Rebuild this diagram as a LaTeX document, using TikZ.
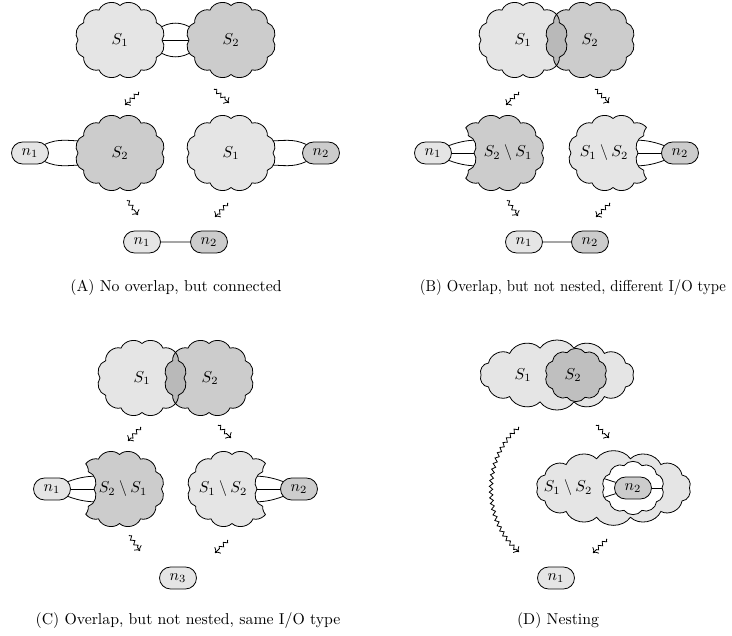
\documentclass[tikz,border=0pt]{standalone}
\usetikzlibrary{shapes.misc,decorations.pathmorphing,arrows.meta}
\newcommand\cloudpath[6]{({#1+#3*cos(#6)},{-(#2)+#4*sin(#6)}) \foreach \k in {1,...,#5}{ to[bend right=55] ({#1+#3*cos(#6+360*\k/#5)},{-(#2)+#4*sin(#6+360*\k/#5)}) } -- cycle}
\newcommand\stdcloud[2]{\cloudpath{#1}{#2}{42}{34.5}{12}{0}}
\newcommand\bigcloud[3]{\cloudpath{#1}{#2}{76}{#3}{14}{0}}
\newcommand\smallcloud[2]{\cloudpath{#1}{#2}{29}{23.5}{10}{0}}
\newcommand\fullrect{(0,0) -- (732,0) -- (732,-635) -- (0,-635) -- cycle}
\tikzset{
  lt/.style={fill=gray!20},
  dk/.style={fill=gray!40},
  nbox/.style={draw, rounded rectangle, minimum width=23.4pt, minimum height=13.9pt, inner sep=0pt},
  squig/.style={decorate, decoration={zigzag, amplitude=1.1pt, segment length=3.6pt, pre length=0.5pt, post length=2.5pt}, ->},
  caption/.style={anchor=base}
}
\newcommand\sqarrow[5]{\coordinate (#1s) at (#2,-#3); \coordinate (#1e) at (#4,-#5); \draw[squig] (#1s) -- (#1e);}
\begin{document}
\begin{tikzpicture}[x=0.633pt, y=0.633pt, line width=0.5pt]
\useasboundingbox (0,0) rectangle (732,-635);

% ================= Panel A =================
\coordinate (a1) at (158,-29); \coordinate (a2) at (193,-29);
\draw (a1) to[bend left=35] (a2);
\coordinate (a3) at (150,-40); \coordinate (a4) at (200,-40);
\draw (a3) -- (a4);
\coordinate (a5) at (158,-51); \coordinate (a6) at (193,-51);
\draw (a5) to[bend right=35] (a6);
\path[draw, lt] \stdcloud{120}{40};
\path[draw, dk] \stdcloud{231}{40};
\node (SA1) at (120,-40) {$S_1$};
\node (SA2) at (231,-40) {$S_2$};

\sqarrow{arA1}{139}{92}{125}{105}
\sqarrow{arA2}{214}{89}{229}{103}

\node[nbox, lt] (nA1) at (30,-153) {$n_1$};
\coordinate (a7) at (84,-141); \draw (nA1.30) to[out=25,in=180] (a7);
\coordinate (a8) at (84,-165); \draw (nA1.-30) to[out=-25,in=180] (a8);
\node[nbox, dk] (nA2) at (321,-153) {$n_2$};
\coordinate (a9) at (268,-141); \draw (a9) to[out=0,in=155] (nA2.150);
\coordinate (a10) at (268,-165); \draw (a10) to[out=0,in=205] (nA2.210);
\path[draw, dk] \stdcloud{120}{153};
\path[draw, lt] \stdcloud{231}{153};
\node (SA3) at (120,-153) {$S_2$};
\node (SA4) at (231,-153) {$S_1$};

\sqarrow{arA3}{127}{200}{138}{215}
\sqarrow{arA4}{228}{203}{215}{217}

\node[nbox, lt] (nA3) at (142,-242) {$n_1$};
\node[nbox, dk] (nA4) at (209,-242) {$n_2$};
\draw (nA3) -- (nA4);

\node[caption] (capA) at (176,-291) {(A) No overlap, but connected};

% ================= Panel B =================
\fill[gray!20] \stdcloud{523}{40};
\fill[gray!40] \stdcloud{590}{40};
\begin{scope}
  \clip \stdcloud{523}{40};
  \fill[gray!55] \stdcloud{590}{40};
\end{scope}
\draw \stdcloud{523}{40};
\draw \stdcloud{590}{40};
\node (SB1) at (523,-40) {$S_1$};
\node (SB2) at (590,-40) {$S_2$};

\sqarrow{arB1}{519}{92}{506}{105}
\sqarrow{arB2}{595}{89}{609}{103}

\begin{scope}
  \clip \fullrect \stdcloud{432}{153};
  \path[draw, dk] \stdcloud{499.5}{153};
\end{scope}
\begin{scope}
  \clip \stdcloud{499.5}{153};
  \draw \stdcloud{432}{153};
\end{scope}
\node[nbox, lt] (nB1) at (433,-153) {$n_1$};
\begin{scope}
  \clip \stdcloud{432}{153};
  \coordinate (b1) at (482,-140); \draw (nB1.25) to[out=20,in=180] (b1);
  \coordinate (b2) at (482,-153); \draw (nB1.east) -- (b2);
  \coordinate (b3) at (482,-166); \draw (nB1.-25) to[out=-20,in=180] (b3);
\end{scope}
\node (SB3) at (508,-153) {$S_2\setminus S_1$};

\begin{scope}
  \clip \fullrect \stdcloud{680}{153};
  \path[draw, lt] \stdcloud{613}{153};
\end{scope}
\begin{scope}
  \clip \stdcloud{613}{153};
  \draw \stdcloud{680}{153};
\end{scope}
\node[nbox, dk] (nB2) at (680,-153) {$n_2$};
\begin{scope}
  \clip \stdcloud{680}{153};
  \coordinate (b4) at (631,-140); \draw (nB2.155) to[out=160,in=0] (b4);
  \coordinate (b5) at (631,-153); \draw (nB2.west) -- (b5);
  \coordinate (b6) at (631,-166); \draw (nB2.205) to[out=200,in=0] (b6);
\end{scope}
\node (SB4) at (604,-153) {$S_1\setminus S_2$};

\sqarrow{arB3}{507}{200}{518}{216}
\sqarrow{arB4}{610}{203}{596}{217}

\node[nbox, lt] (nB3) at (524,-242) {$n_1$};
\node[nbox, dk] (nB4) at (590,-242) {$n_2$};
\draw (nB3) -- (nB4);

\node[caption] (capB) at (573,-291) {\scalebox{0.935}[1]{(B) Overlap, but not nested, different I/O type}};

% ================= Panel C =================
\fill[gray!20] \stdcloud{142}{378};
\fill[gray!40] \stdcloud{209}{378};
\begin{scope}
  \clip \stdcloud{142}{378};
  \fill[gray!55] \stdcloud{209}{378};
\end{scope}
\draw \stdcloud{142}{378};
\draw \stdcloud{209}{378};
\node (SC1) at (142,-378) {$S_1$};
\node (SC2) at (210,-378) {$S_2$};

\sqarrow{arC1}{141}{427}{128}{441}
\sqarrow{arC2}{218}{425}{231}{438}

\begin{scope}
  \clip \fullrect \stdcloud{52}{489};
  \path[draw, dk] \stdcloud{119.5}{489};
\end{scope}
\begin{scope}
  \clip \stdcloud{119.5}{489};
  \draw \stdcloud{52}{489};
\end{scope}
\node[nbox, lt] (nC1) at (52,-489) {$n_1$};
\begin{scope}
  \clip \stdcloud{52}{489};
  \coordinate (c1) at (102,-476); \draw (nC1.25) to[out=20,in=180] (c1);
  \coordinate (c2) at (102,-489); \draw (nC1.east) -- (c2);
  \coordinate (c3) at (102,-502); \draw (nC1.-25) to[out=-20,in=180] (c3);
\end{scope}
\node (SC3) at (123,-489) {$S_2\setminus S_1$};

\begin{scope}
  \clip \fullrect \stdcloud{299}{489};
  \path[draw, lt] \stdcloud{232}{489};
\end{scope}
\begin{scope}
  \clip \stdcloud{232}{489};
  \draw \stdcloud{299}{489};
\end{scope}
\node[nbox, dk] (nC2) at (299,-489) {$n_2$};
\begin{scope}
  \clip \stdcloud{299}{489};
  \coordinate (c4) at (250,-476); \draw (nC2.155) to[out=160,in=0] (c4);
  \coordinate (c5) at (250,-489); \draw (nC2.west) -- (c5);
  \coordinate (c6) at (250,-502); \draw (nC2.205) to[out=200,in=0] (c6);
\end{scope}
\node (SC4) at (223,-489) {$S_1\setminus S_2$};

\sqarrow{arC3}{129}{535}{140}{551}
\sqarrow{arC4}{228}{540}{215}{553}

\node[nbox, lt] (nC3) at (178,-578) {$n_3$};

\node[caption] (capC) at (188,-624) {(C) Overlap, but not nested, same I/O type};

% ================= Panel D =================
\path[draw, lt] \bigcloud{557}{375}{27.6};
\path[draw, fill=gray!50] \smallcloud{576}{375};
\node (SD1) at (523,-375) {$S_1$};
\node (SD2) at (573,-375) {$S_2$};

\sqarrow{arD1}{596}{425}{609}{438}
\coordinate (dLs) at (519,-427); \coordinate (dLe) at (519,-552);
\draw[squig] (dLs) to[bend right=50] (dLe);

\path[draw, lt] \bigcloud{613.5}{488}{30};
\path[draw, fill=white] \smallcloud{633}{488};
\node[nbox, dk] (nD2) at (633,-488) {$n_2$};
\begin{scope}
  \clip \smallcloud{633}{488};
  \coordinate (d1) at (596,-476); \draw (nD2.162) -- (d1);
  \coordinate (d2) at (596,-500); \draw (nD2.198) -- (d2);
  \coordinate (d3) at (670,-488); \draw (nD2.east) -- (d3);
\end{scope}
\node (SD3) at (568,-488) {$S_1\setminus S_2$};

\sqarrow{arD2}{607}{539}{593}{553}

\node[nbox, lt] (nD1) at (556,-578) {$n_1$};

\node[caption] (capD) at (558,-624) {(D) Nesting};
\end{tikzpicture}
\end{document}
